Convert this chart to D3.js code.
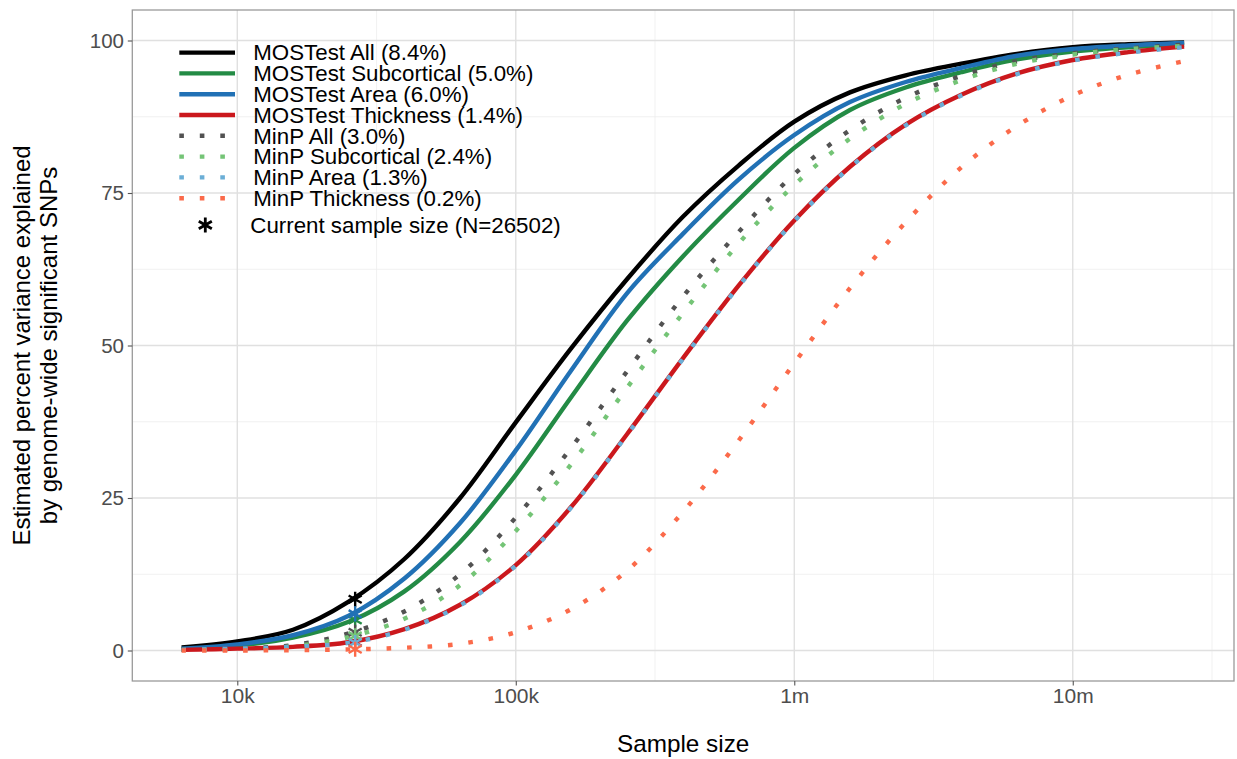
<!DOCTYPE html>
<html>
<head>
<meta charset="utf-8">
<script src="https://cdn.jsdelivr.net/npm/d3@7"></script>
<style>
  body { margin: 0; background: #fff; }
  svg { display: block; font-family: "Liberation Sans", Arial, Helvetica, sans-serif; }
</style>
</head>
<body>
<div id="chart"></div>
<script>
// sample sizes the curves were read at (about 0.2 apart in log10)
const sampleSizes = [6310, 10000, 15849, 25119, 39811, 63096, 100000, 158489, 251189, 398107,
  630957, 1000000, 1584893, 2511886, 3981072, 6309573, 10000000, 15848932, 25118864];

// percent variance explained
const mostestAll         = [0.5, 1.5, 3.4, 8.0, 15.0, 25.0, 37.4, 49.6, 60.9, 71.1, 79.5, 86.7, 91.5, 94.3, 96.2, 97.8, 98.9, 99.4, 99.7];
const mostestSubcortical = [0.2, 0.8, 2.1, 4.7, 9.7, 17.8, 28.8, 41.6, 54.1, 64.6, 73.9, 82.4, 88.6, 92.3, 94.8, 96.9, 98.2, 98.9, 99.3];
const mostestArea        = [0.3, 1.0, 2.5, 5.7, 11.8, 20.9, 32.8, 46.0, 58.6, 68.3, 77.2, 84.5, 89.9, 93.2, 95.5, 97.5, 98.6, 99.2, 99.6];
const mostestThickness   = [0.1, 0.3, 0.6, 1.35, 3.5, 7.5, 14.0, 23.6, 35.5, 47.9, 59.8, 70.5, 79.3, 86.2, 91.1, 94.6, 96.8, 98.1, 99.0];
const minpAll            = [0.1, 0.3, 0.9, 2.8, 6.4, 12.5, 21.8, 33.3, 45.8, 58.0, 68.6, 78.1, 85.3, 90.6, 94.2, 96.6, 97.9, 98.7, 99.3];
const minpSubcortical    = [0.1, 0.2, 0.7, 2.2, 5.2, 10.7, 19.6, 30.6, 43.1, 55.3, 66.7, 76.3, 83.9, 89.6, 93.5, 96.2, 97.7, 98.6, 99.1];
const minpArea           = [0.1, 0.3, 0.6, 1.25, 3.4, 7.4, 13.9, 23.5, 35.4, 47.8, 59.7, 70.4, 79.2, 86.1, 91.0, 94.5, 96.7, 98.0, 98.9];
const minpThickness      = [0.0, 0.0, 0.05, 0.18, 0.45, 1.1, 3.0, 6.8, 13.1, 22.7, 34.4, 47.1, 59.4, 70.2, 79.2, 86.0, 91.0, 94.4, 96.6];

const seriesNames = ['MOSTest All', 'MOSTest Subcortical', 'MOSTest Area', 'MOSTest Thickness',
  'MinP All', 'MinP Subcortical', 'MinP Area', 'MinP Thickness'];
const seriesColors = ['#000000', '#238b45', '#2171b5', '#cb181d', '#525252', '#74c476', '#6baed6', '#fb6a4a'];
const seriesDotted = [false, false, false, false, true, true, true, true];
// value at the current sample size (shown in the legend and as stars)
const currentPct = [8.4, 5.0, 6.0, 1.4, 3.0, 2.4, 1.3, 0.2];
const currentN = 26502;

const xTickValues = [1e4, 1e5, 1e6, 1e7];
const xTickLabels = ['10k', '100k', '1m', '10m'];
const xMinorValues = [10 ** 4.5, 10 ** 5.5, 10 ** 6.5, 10 ** 7.5];
const yTickValues = [0, 25, 50, 75, 100];
const yMinorValues = [12.5, 37.5, 62.5, 87.5];

const allValues = [mostestAll, mostestSubcortical, mostestArea, mostestThickness,
  minpAll, minpSubcortical, minpArea, minpThickness];

const series = seriesNames.map((name, i) => ({
  name, color: seriesColors[i], dotted: seriesDotted[i], pct: currentPct[i],
  points: sampleSizes.map((n, j) => ({ n, v: allValues[i][j] }))
}));

const { scaleLog, scaleLinear, axisBottom, axisLeft, line, curveCatmullRom, symbol, symbolAsterisk } = d3;

const width = 1237, height = 759;
const panel = { left: 132.3, right: 1234, top: 10, bottom: 681 };

const svg = d3.select('#chart').append('svg')
  .attr('width', width)
  .attr('height', height);

const x = scaleLog().domain([10 ** 3.623, 10 ** 7.579]).range([panel.left, panel.right]);
const y = scaleLinear().domain([-5, 105]).range([panel.bottom, panel.top]);

// grid
const grid = svg.append('g');
grid.selectAll('.xminor').data(xMinorValues).enter().append('line')
  .attr('x1', d => x(d)).attr('x2', d => x(d)).attr('y1', panel.top).attr('y2', panel.bottom)
  .attr('stroke', '#eeeeee').attr('stroke-width', 0.8);
grid.selectAll('.yminor').data(yMinorValues).enter().append('line')
  .attr('y1', d => y(d)).attr('y2', d => y(d)).attr('x1', panel.left).attr('x2', panel.right)
  .attr('stroke', '#eeeeee').attr('stroke-width', 0.8);
grid.selectAll('.xmajor').data(xTickValues).enter().append('line')
  .attr('x1', d => x(d)).attr('x2', d => x(d)).attr('y1', panel.top).attr('y2', panel.bottom)
  .attr('stroke', '#e0e0e0').attr('stroke-width', 1.4);
grid.selectAll('.ymajor').data(yTickValues).enter().append('line')
  .attr('y1', d => y(d)).attr('y2', d => y(d)).attr('x1', panel.left).attr('x2', panel.right)
  .attr('stroke', '#e0e0e0').attr('stroke-width', 1.4);

// curves
const path = line().x(d => x(d.n)).y(d => y(d.v)).curve(curveCatmullRom.alpha(0.5));

svg.append('g').selectAll('path').data(series).enter().append('path')
  .attr('d', d => path(d.points))
  .attr('fill', 'none')
  .attr('stroke', d => d.color)
  .attr('stroke-width', 4.4)
  .attr('stroke-linecap', 'butt')
  .attr('stroke-dasharray', d => d.dotted ? '4.6 15.9' : null);

// stars at the current sample size
const star = symbol().type(symbolAsterisk).size(160);
svg.append('g').selectAll('path').data(series).enter().append('path')
  .attr('d', star)
  .attr('transform', d => `translate(${x(currentN)},${y(d.pct)})`)
  .attr('fill', 'none')
  .attr('stroke', d => d.color)
  .attr('stroke-width', 2.4);

// panel border
svg.append('rect')
  .attr('x', panel.left).attr('y', panel.top)
  .attr('width', panel.right - panel.left).attr('height', panel.bottom - panel.top)
  .attr('fill', 'none').attr('stroke', '#9a9a9a').attr('stroke-width', 1.3);

// axes
const xAxisG = svg.append('g')
  .attr('transform', `translate(0,${panel.bottom})`)
  .call(axisBottom(x).tickValues(xTickValues).tickFormat((d, i) => xTickLabels[i]).tickSize(4.5).tickPadding(3));
const yAxisG = svg.append('g')
  .attr('transform', `translate(${panel.left},0)`)
  .call(axisLeft(y).tickValues(yTickValues).tickSize(4.5).tickPadding(3.8));

[xAxisG, yAxisG].forEach(g => {
  g.select('.domain').remove();
  g.selectAll('.tick line').attr('stroke', '#555').attr('stroke-width', 1.1);
  g.selectAll('.tick text').attr('fill', '#4d4d4d').style('font-size', '21px').attr('font-family', null);
});
yAxisG.selectAll('.tick text').style('font-size', '20.5px');

svg.append('text')
  .attr('x', (panel.left + panel.right) / 2).attr('y', 752)
  .attr('text-anchor', 'middle').style('font-size', '24.3px').attr('fill', '#000')
  .text('Sample size');

const yTitle = svg.append('text')
  .attr('transform', `translate(0,${(panel.top + panel.bottom) / 2}) rotate(-90)`)
  .attr('text-anchor', 'middle').style('font-size', '24px').attr('fill', '#000');
yTitle.append('tspan').attr('x', 0).attr('y', 29.5).text('Estimated percent variance explained');
yTitle.append('tspan').attr('x', 0).attr('y', 56.5).text('by genome-wide significant SNPs');

// legend
const legend = svg.append('g').attr('transform', 'translate(179.3,52.6)');
const rowH = 20.8;
const rows = legend.selectAll('g').data(series).enter().append('g')
  .attr('transform', (d, i) => `translate(0,${i * rowH})`);
rows.append('line')
  .attr('x1', 0).attr('x2', 55.7).attr('y1', 0).attr('y2', 0)
  .attr('stroke', d => d.color).attr('stroke-width', 4.4)
  .attr('stroke-dasharray', d => d.dotted ? '4.6 15.9' : null);
rows.append('text')
  .attr('x', 74).attr('y', 7.8)
  .style('font-size', '22.3px').attr('fill', '#000')
  .text(d => `${d.name} (${d.pct.toFixed(1)}%)`);

const starRow = legend.append('g').attr('transform', `translate(0,${8 * rowH + 6})`);
starRow.append('path')
  .attr('d', star)
  .attr('transform', 'translate(26,0)')
  .attr('fill', 'none').attr('stroke', '#000').attr('stroke-width', 2.8);
starRow.append('text')
  .attr('x', 71).attr('y', 7.8)
  .style('font-size', '22.3px').attr('fill', '#000')
  .text(`Current sample size (N=${currentN})`);
</script>
</body>
</html>
